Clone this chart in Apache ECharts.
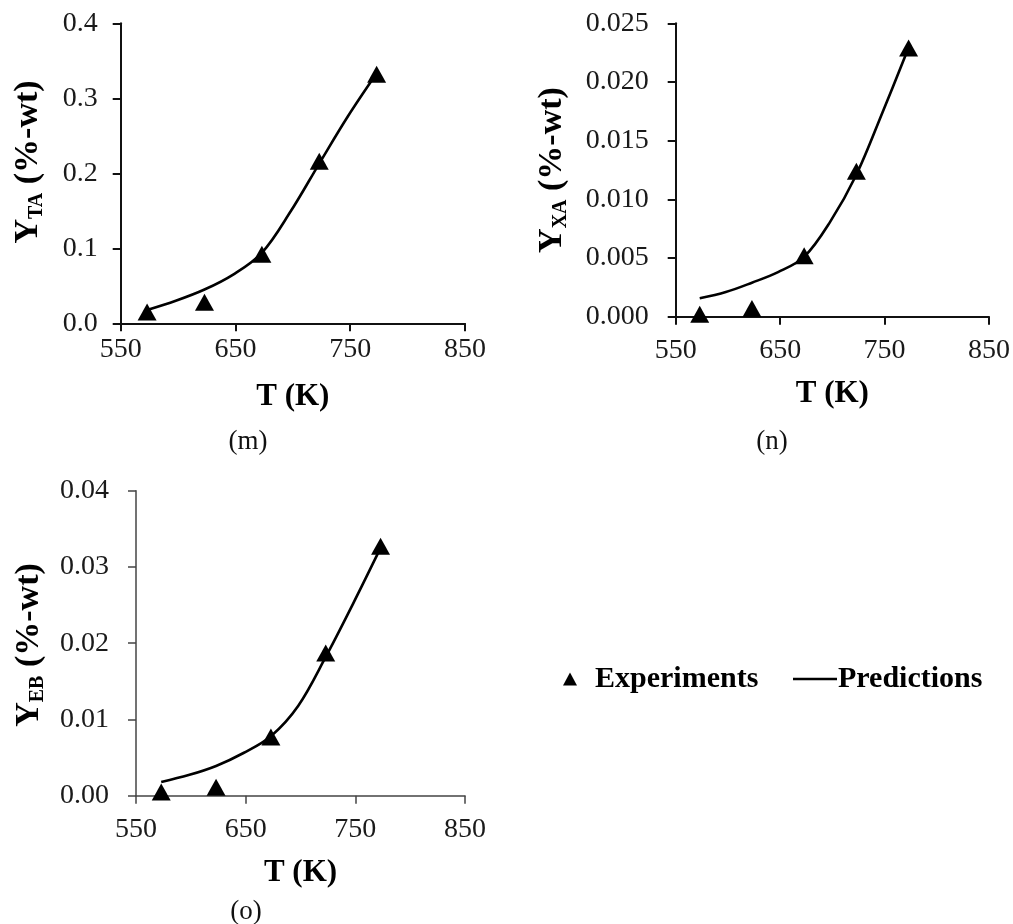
<!DOCTYPE html>
<html>
<head>
<meta charset="utf-8">
<script src="https://cdn.jsdelivr.net/npm/echarts@6/dist/echarts.min.js"></script>
<style>html,body{margin:0;padding:0;background:#fff}#c{width:1013px;height:924px}</style>
</head>
<body>
<div id="c"></div>
<script>
// ---- data ----
const expT = [573, 623, 673, 723, 773];
const expTA = [0.015, 0.028, 0.092, 0.216, 0.332];
const expXA = [0.0002, 0.0007, 0.0052, 0.0124, 0.0229];
const expEB = [0.0005, 0.0011, 0.0077, 0.0187, 0.0327];

const predT = [573, 598, 623, 648, 673, 698, 723, 748, 772];
const predTA = [0.0177, 0.030, 0.045, 0.065, 0.094, 0.149, 0.213, 0.276, 0.331];
const predXA = [0.00157, 0.0021, 0.0029, 0.0038, 0.0051, 0.0081, 0.0121, 0.0174, 0.0227];
const predEB = [0.0018, 0.0027, 0.0039, 0.0056, 0.0078, 0.0118, 0.0182, 0.0252, 0.0322];

const xTicks = [550, 650, 750, 850];
const xTitle = 'T (K)';
const panelLabels = ['(m)', '(n)', '(o)'];
const legendNames = ['Experiments', 'Predictions'];

// ---- chart ----
const FF = 'Liberation Serif';
const pair = (xs, ys) => xs.map((x, i) => [x, ys[i]]);

const grids = [
  {left: 120.7, top: 23.3, width: 344.3, height: 300},
  {left: 675.7, top: 23.3, width: 313.6, height: 293.4},
  {left: 136, top: 490.7, width: 329, height: 305}
];
const yCfg = [
  {max: 0.4, interval: 0.1, dec: 1, margin: 23, axisColor: '#111', w: 2},
  {max: 0.025, interval: 0.005, dec: 3, margin: 27, axisColor: '#111', w: 2},
  {max: 0.04, interval: 0.01, dec: 2, margin: 27, axisColor: '#444', w: 1.5}
];
const xMargins = [12, 20, 20];
const xGaps = [58, 62, 62];

const xAxes = grids.map((g, i) => ({
  type: 'value', gridIndex: i,
  min: xTicks[0], max: xTicks[xTicks.length - 1], interval: xTicks[1] - xTicks[0],
  name: xTitle, nameLocation: 'middle', nameGap: xGaps[i],
  nameTextStyle: {fontFamily: FF, fontWeight: 'bold', fontSize: 31, color: '#000'},
  axisLine: {onZero: false, lineStyle: {color: yCfg[i].axisColor, width: yCfg[i].w}},
  axisTick: {show: true, length: 8, lineStyle: {color: yCfg[i].axisColor, width: yCfg[i].w}},
  axisLabel: {fontFamily: FF, fontSize: 28, color: '#1a1a1a', margin: xMargins[i]},
  splitLine: {show: false}
}));
const yAxes = yCfg.map((c, i) => ({
  type: 'value', gridIndex: i, min: 0, max: c.max, interval: c.interval,
  axisLine: {show: true, lineStyle: {color: c.axisColor, width: c.w}},
  axisTick: {show: true, length: 8, lineStyle: {color: c.axisColor, width: c.w}},
  axisLabel: {fontFamily: FF, fontSize: 28, color: '#1a1a1a', margin: c.margin,
    formatter: v => v.toFixed(c.dec)},
  splitLine: {show: false}
}));

const expSets = [expTA, expXA, expEB];
const predSets = [predTA, predXA, predEB];
const series = [];
for (let i = 0; i < 3; i++) {
  series.push({
    name: legendNames[1], type: 'line', xAxisIndex: i, yAxisIndex: i,
    data: pair(predT, predSets[i]), smooth: 0.35, symbol: 'none',
    itemStyle: {color: '#000'},
    lineStyle: {color: '#000', width: 2.6}, z: 2, silent: true
  });
  series.push({
    name: legendNames[0], type: 'scatter', xAxisIndex: i, yAxisIndex: i,
    data: pair(expT, expSets[i]), symbol: 'triangle', symbolSize: [19, 17],
    itemStyle: {color: '#000', opacity: 1}, z: 3, silent: true
  });
}

const yTitles = [
  {x: 28, y: 162, sub: 'TA'},
  {x: 552, y: 170, sub: 'XA'},
  {x: 29, y: 645, sub: 'EB'}
];
const labelPos = [[248, 442], [772, 442], [246, 912]];

const graphic = [];
yTitles.forEach(t => {
  graphic.push({
    type: 'text', x: t.x, y: t.y, rotation: Math.PI / 2,
    style: {
      text: '{b|Y}{s|' + t.sub + '}{b| (%-wt)}',
      align: 'center', verticalAlign: 'middle',
      rich: {
        b: {fontFamily: FF, fontWeight: 'bold', fontSize: 34, fill: '#000', lineHeight: 38, verticalAlign: 'middle'},
        s: {fontFamily: FF, fontWeight: 'bold', fontSize: 20, fill: '#000', lineHeight: 38, verticalAlign: 'bottom', padding: [13, 0, 0, 0]}
      }
    }
  });
});
labelPos.forEach((p, i) => {
  graphic.push({
    type: 'text', x: p[0], y: p[1],
    style: {text: panelLabels[i], fontFamily: FF, fontSize: 27, fill: '#111', align: 'center', verticalAlign: 'middle'}
  });
});

const chart = echarts.init(document.getElementById('c'));
chart.setOption({
  animation: false,
  backgroundColor: '#fff',
  grid: grids,
  xAxis: xAxes,
  yAxis: yAxes,
  legend: [{
    left: 563, top: 664, padding: 0,
    itemWidth: 14, itemHeight: 13,
    data: [{name: legendNames[0], icon: 'triangle'}],
    textStyle: {fontFamily: FF, fontWeight: 'bold', fontSize: 30, color: '#000', padding: [0, 0, 0, 13]},
    selectedMode: false
  }, {
    left: 793, top: 664, padding: 0,
    itemWidth: 44, itemHeight: 2.6,
    data: [{name: legendNames[1], icon: 'rect'}],
    textStyle: {fontFamily: FF, fontWeight: 'bold', fontSize: 30, color: '#000', padding: [0, 0, 0, -4]},
    selectedMode: false
  }],
  graphic: graphic,
  series: series
});
</script>
</body>
</html>
